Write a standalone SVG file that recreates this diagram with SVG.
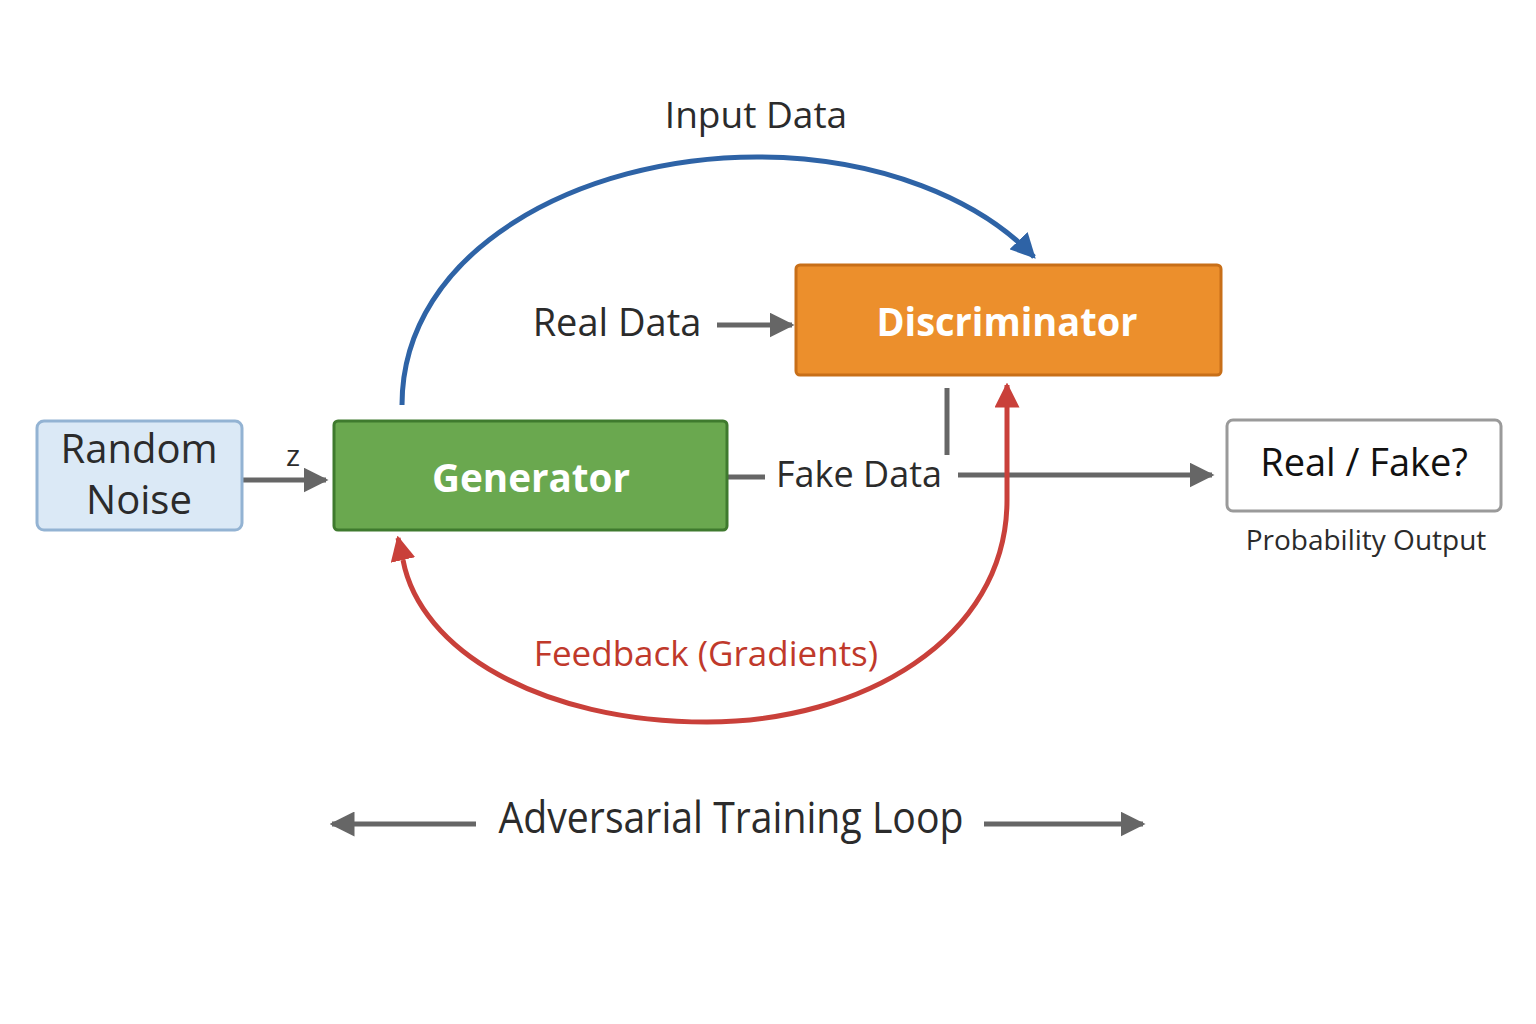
<svg xmlns="http://www.w3.org/2000/svg" width="1536" height="1024" viewBox="0 0 1536 1024">
<defs>
<marker id="ag" viewBox="0 0 10 10" refX="9" refY="5" markerWidth="5" markerHeight="5" orient="auto" markerUnits="strokeWidth"><path d="M0,0 L10,5 L0,10 z" fill="#666"/></marker>
<marker id="ar" viewBox="0 0 10 10" refX="9" refY="5" markerWidth="5" markerHeight="5" orient="auto" markerUnits="strokeWidth"><path d="M0,0 L10,5 L0,10 z" fill="#c9403a"/></marker>
<marker id="ab" viewBox="0 0 10 10" refX="9" refY="5" markerWidth="5" markerHeight="5" orient="auto" markerUnits="strokeWidth"><path d="M0,0 L10,5 L0,10 z" fill="#2e63a6"/></marker>
</defs>
<style>
text{font-family:"Open Sans","Noto Sans","DejaVu Sans",sans-serif;}
.lbl{fill:#2b2b2b;}
.wt{fill:#fff;font-weight:bold;}
.g{stroke:#666;stroke-width:5;fill:none;}
</style>
<rect width="1536" height="1024" fill="#fff"/>
<g id="connectors">
<line class="g" x1="242" y1="480" x2="326" y2="480" marker-end="url(#ag)"/>
<line class="g" x1="717" y1="325" x2="792" y2="325" marker-end="url(#ag)"/>
<line class="g" x1="727" y1="477" x2="765" y2="477"/>
<line class="g" x1="958" y1="475" x2="1212" y2="475" marker-end="url(#ag)"/>
<line class="g" x1="947" y1="388" x2="947" y2="455"/>
<path d="M403,560 C420,650 540,722 707,722 C860,722 1007,640 1007,500 L1007,385" stroke="#c9403a" stroke-width="5" fill="none" marker-end="url(#ar)"/>
<line x1="403" y1="560" x2="398" y2="538" stroke="#c9403a" stroke-width="5" marker-end="url(#ar)"/>
<path d="M402,405 C402,250 580,157 757,157 C880,157 980,200 1034,257" stroke="#2e63a6" stroke-width="5" fill="none" marker-end="url(#ab)"/>
<line class="g" x1="476" y1="824" x2="332" y2="824" marker-end="url(#ag)"/>
<line class="g" x1="984" y1="824" x2="1143" y2="824" marker-end="url(#ag)"/>
</g>
<g id="noise">
<rect x="37" y="421" width="205" height="109" rx="7" fill="#dbe9f6" stroke="#93b3d3" stroke-width="3"/>
<text class="lbl" x="139" y="463" font-size="40" text-anchor="middle">Random</text>
<text class="lbl" x="139" y="514" font-size="40" text-anchor="middle">Noise</text>
</g>
<text class="lbl" x="293" y="466" font-size="30" text-anchor="middle">z</text>
<g id="generator">
<rect x="334" y="421" width="393" height="109" rx="4" fill="#6aa84f" stroke="#3f7a2e" stroke-width="3"/>
<text class="wt" x="531" y="492" font-size="40" text-anchor="middle" textLength="198" lengthAdjust="spacingAndGlyphs">Generator</text>
</g>
<g id="discriminator">
<rect x="796" y="265" width="425" height="110" rx="4" fill="#ec8f2c" stroke="#c86f18" stroke-width="3"/>
<text class="wt" x="1007" y="336" font-size="40" text-anchor="middle" textLength="261" lengthAdjust="spacingAndGlyphs">Discriminator</text>
</g>
<g id="output">
<rect x="1227" y="420" width="274" height="91" rx="6" fill="#fff" stroke="#9a9a9a" stroke-width="3"/>
<text x="1364" y="476" font-size="38" text-anchor="middle" fill="#111">Real / Fake?</text>
<text class="lbl" x="1366" y="550" font-size="28" text-anchor="middle">Probability Output</text>
</g>
<text class="lbl" x="617" y="336" font-size="38" text-anchor="middle">Real Data</text>
<text class="lbl" x="859" y="487" font-size="36" text-anchor="middle">Fake Data</text>
<text class="lbl" x="756" y="128" font-size="37" text-anchor="middle">Input Data</text>
<text x="706" y="666" font-size="35" text-anchor="middle" fill="#c0392b">Feedback (Gradients)</text>
<text class="lbl" x="731" y="833" font-size="44" text-anchor="middle" textLength="465" lengthAdjust="spacingAndGlyphs">Adversarial Training Loop</text>
</svg>
